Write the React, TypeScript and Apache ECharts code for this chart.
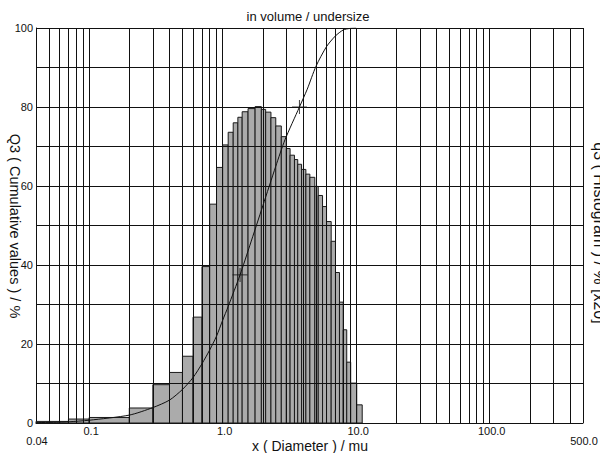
import React, { useEffect, useRef } from "react";
import * as echarts from "echarts";

// Histogram class boundaries (µm) and bar heights (q3, % x20)
const binEdges = [
  0.04, 0.07, 0.1, 0.2, 0.3, 0.4, 0.5, 0.6, 0.7, 0.8, 0.9, 1.0, 1.1, 1.2, 1.3, 1.4,
  1.55, 1.75, 1.95, 2.1, 2.3, 2.5, 2.75, 3.0, 3.2, 3.45, 3.65, 3.9, 4.2, 4.5, 4.9, 5.2,
  5.6, 6.0, 6.5, 7.0, 7.5, 8.0, 8.5, 9.1, 10.1, 11.1,
];
const histValues = [
  0.4, 1.0, 1.4, 3.8, 9.7, 12.8, 16.9, 26.8, 39.6, 55.4, 64.7, 70.4, 73.6, 76.0, 77.4, 78.8,
  79.6, 80.1, 79.4, 78.7, 77.3, 75.2, 72.5, 69.5, 67.8, 66.7, 65.5, 64.2, 63.0, 62.2, 59.9, 57.6,
  54.8, 51.0, 46.0, 38.1, 30.6, 23.6, 15.4, 10.1, 4.6,
];

// Cumulative curve Q3 (%)
const cumX = [0.04, 0.06, 0.07, 0.1, 0.2, 0.3, 0.4, 0.5, 0.6, 0.7, 0.8, 0.9, 1.0, 1.1, 1.35, 1.6, 2.0, 2.5, 2.93, 3.76, 4.3, 5.0, 6.0, 7.0, 8.0, 9.0, 10.0];
const cumY = [0.1, 0.2, 0.3, 0.7, 2.0, 3.9, 5.8, 8.5, 11.5, 15.0, 18.5, 22.0, 26.0, 29.5, 37.5, 45.0, 55.0, 65.0, 71.7, 80.0, 84.5, 90.3, 95.3, 98.0, 99.5, 99.9, 100];

// Cross markers on the curve
const markerX = [1.35, 3.76];
const markerY = [37.5, 80];

// Grid lines
const xGridValues = [
  0.05, 0.06, 0.07, 0.08, 0.09, 0.1, 0.2, 0.3, 0.4, 0.5, 0.6, 0.7, 0.8, 0.9, 1,
  2, 3, 4, 5, 6, 7, 8, 9, 10, 20, 30, 40, 50, 60, 70, 80, 90, 100, 200, 300, 400, 500,
];
const yGridValues = [10, 20, 30, 40, 50, 60, 70, 80, 90, 100];

// Tick labels
const xTickValues = [0.04, 0.1, 1, 10, 100, 500];
const xTickLabels = ["0.04", "0.1", "1.0", "10.0", "100.0", "500.0"];
const yTickValues = [0, 20, 40, 60, 80, 100];

const FONT = "Liberation Sans, Arial, sans-serif";
const INK = "#111";

export default function App() {
  const ref = useRef<HTMLDivElement>(null);

  useEffect(() => {
    const chart = echarts.init(ref.current!, null, { renderer: "svg" });
    const histData = histValues.map((h, i) => [binEdges[i], binEdges[i + 1], h]);
    const cumData = cumX.map((x, i) => [x, cumY[i]]);
    const markerData = markerX.map((x, i) => [x, markerY[i]]);

    chart.setOption({
      animation: false,
      backgroundColor: "#fff",
      grid: { left: 36, right: 17, top: 28, bottom: 30, containLabel: false, outerBoundsMode: "none" },
      xAxis: {
        type: "log",
        logBase: 10,
        min: 0.04,
        max: 500,
        axisLine: { show: true, lineStyle: { color: INK, width: 1 } },
        axisTick: { show: false },
        splitLine: { show: false },
        minorSplitLine: { show: false },
        axisLabel: {
          show: true,
          margin: 2,
          showMinLabel: true,
          showMaxLabel: true,
          hideOverlap: false,
          formatter: (v: number) => {
            const i = xTickValues.findIndex((t) => Math.abs(Math.log10(t) - Math.log10(v)) < 0.01);
            if (i < 0) return "";
            const s = xTickLabels[i];
            return i === 0 || i === xTickValues.length - 1 ? `{low|${s}}` : `{n|${s}}`;
          },
          rich: {
            n: { fontSize: 11, color: INK, fontFamily: FONT, padding: [0, 0, 0, 4] },
            low: { fontSize: 11, color: INK, fontFamily: FONT, padding: [10, 0, 0, 2] },
          },
        },
      },
      yAxis: {
        type: "value",
        min: 0,
        max: 100,
        interval: 10,
        axisLine: { show: true, lineStyle: { color: INK, width: 1 } },
        axisTick: { show: false },
        splitLine: { show: false },
        axisLabel: {
          margin: 3,
          fontSize: 11,
          color: INK,
          fontFamily: FONT,
          showMinLabel: true,
          showMaxLabel: true,
          formatter: (v: number) => (yTickValues.includes(v) ? String(v) : ""),
        },
      },
      series: [
        {
          type: "custom",
          z: 1,
          data: histData,
          encode: { x: [0, 1], y: 2 },
          renderItem: (params: any, api: any) => {
            const p0 = api.coord([api.value(0), api.value(2)]);
            const p1 = api.coord([api.value(1), 0]);
            return {
              type: "rect",
              shape: { x: p0[0], y: p0[1], width: p1[0] - p0[0], height: p1[1] - p0[1] },
              style: { fill: "#ababab", stroke: "#1a1a1a", lineWidth: 1 },
            };
          },
        },
        {
          type: "line",
          z: 5,
          data: cumData,
          showSymbol: false,
          smooth: 0.25,
          lineStyle: { color: INK, width: 1 },
          markLine: {
            silent: true,
            symbol: ["none", "none"],
            label: { show: false },
            lineStyle: { color: INK, type: "solid", width: 1 },
            emphasis: { disabled: true },
            data: [
              ...xGridValues.map((v) => ({ xAxis: v })),
              ...yGridValues.map((v) => ({ yAxis: v })),
            ],
          },
        },
        {
          type: "scatter",
          z: 6,
          data: markerData,
          symbol: "rect",
          symbolSize: [15, 1],
          itemStyle: { color: INK },
        },
        {
          type: "scatter",
          z: 6,
          data: markerData,
          symbol: "rect",
          symbolSize: [1, 14],
          itemStyle: { color: INK },
        },
      ],
      graphic: [
        {
          type: "text",
          x: 308,
          y: 16,
          style: {
            text: "in volume / undersize",
            fontSize: 13,
            fontFamily: FONT,
            fill: INK,
            textAlign: "center",
            textVerticalAlign: "middle",
          },
        },
        {
          type: "text",
          x: 310,
          y: 446,
          style: {
            text: "x ( Diameter ) / mu",
            fontSize: 14,
            fontFamily: FONT,
            fill: INK,
            textAlign: "center",
            textVerticalAlign: "middle",
          },
        },
        {
          type: "text",
          x: 15,
          y: 226,
          rotation: -Math.PI / 2,
          style: {
            text: "Q3 ( Cumulative values ) / %",
            fontSize: 14.5,
            fontFamily: FONT,
            fill: INK,
            textAlign: "center",
            textVerticalAlign: "middle",
          },
        },
        {
          type: "text",
          x: 599,
          y: 233,
          rotation: -Math.PI / 2,
          style: {
            text: "q3 ( Histogram ) / % [x20]",
            fontSize: 16,
            fontFamily: FONT,
            fill: INK,
            textAlign: "center",
            textVerticalAlign: "middle",
          },
        },
      ],
    });

    return () => chart.dispose();
  }, []);

  return (
    <div
      ref={ref}
      style={{ position: "absolute", left: 0, top: 0, width: 600, height: 453 }}
    />
  );
}
